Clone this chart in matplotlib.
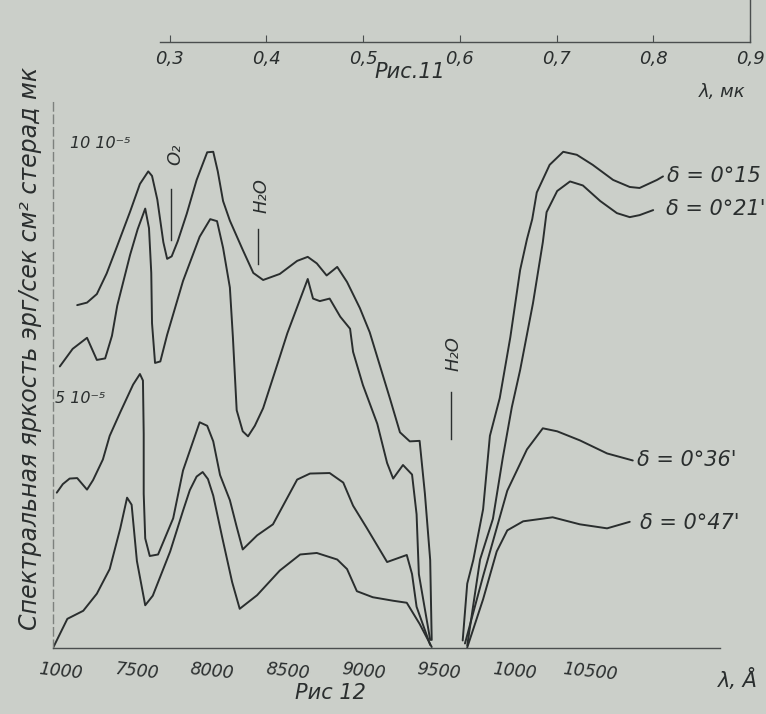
import matplotlib
matplotlib.use("Agg")
import matplotlib.pyplot as plt
from matplotlib.transforms import ScaledTranslation

plt.rcParams['font.family'] = ['DejaVu Sans']

# ---------------- data (wavelength in Å, spectral brightness in 1e-5 units) -------------
# delta = 0°15'
wl_a_left = [7160, 7225, 7290, 7355, 7425, 7510, 7575, 7630, 7655, 7690, 7730, 7755, 7785,
             7825, 7885, 7950, 8020, 8060, 8090, 8125, 8170, 8255, 8325, 8390, 8500, 8615,
             8685, 8745, 8810, 8880, 8945, 9030, 9095, 9165, 9230, 9295, 9360, 9425, 9460,
             9495, 9505]
val_a_left = [6.82, 6.87, 7.04, 7.45, 8.00, 8.68, 9.23, 9.48, 9.39, 8.92, 8.07, 7.74, 7.79,
              8.09, 8.64, 9.31, 9.86, 9.87, 9.48, 8.89, 8.50, 7.92, 7.46, 7.32, 7.44, 7.70,
              7.78, 7.65, 7.41, 7.58, 7.28, 6.76, 6.28, 5.59, 4.95, 4.29, 4.11, 4.12, 3.07,
              1.75, 0.16]
wl_a_right = [9710, 9740, 9780, 9845, 9890, 9955, 10025, 10090, 10135, 10170, 10200, 10285,
              10375, 10465, 10570, 10705, 10815, 10880, 10995, 11035]
val_a_right = [0.15, 1.28, 1.75, 2.76, 4.22, 4.97, 6.18, 7.52, 8.13, 8.53, 9.06, 9.61,
               9.87, 9.81, 9.61, 9.31, 9.17, 9.15, 9.31, 9.38]

# delta = 0°21'
wl_b_left = [7045, 7130, 7225, 7290, 7345, 7390, 7425, 7510, 7560, 7610, 7635, 7650, 7655,
             7675, 7710, 7755, 7860, 7970, 8040, 8085, 8125, 8170, 8190, 8215, 8255, 8290,
             8335, 8390, 8500, 8550, 8685, 8720, 8765, 8830, 8900, 8965, 8985, 9050, 9145,
             9210, 9250, 9315, 9375, 9405, 9420, 9495]
val_b_left = [5.60, 5.95, 6.17, 5.73, 5.76, 6.21, 6.81, 7.82, 8.33, 8.74, 8.35, 7.46, 6.46,
              5.67, 5.70, 6.23, 7.30, 8.18, 8.53, 8.49, 7.96, 7.17, 6.18, 4.73, 4.31, 4.21,
              4.42, 4.77, 5.79, 6.26, 7.34, 6.95, 6.90, 6.95, 6.59, 6.35, 5.89, 5.23, 4.46,
              3.68, 3.37, 3.64, 3.45, 2.66, 1.47, 0.16]
wl_b_right = [9740, 9825, 9910, 9975, 10035, 10090, 10175, 10240, 10265, 10335, 10420,
              10505, 10620, 10730, 10815, 10880, 10970]
val_b_right = [0.05, 1.76, 2.57, 3.78, 4.79, 5.53, 6.86, 8.07, 8.67, 9.09, 9.28, 9.20,
               8.89, 8.65, 8.57, 8.61, 8.71]

# delta = 0°36'
wl_c_left = [7025, 7065, 7110, 7160, 7225, 7265, 7330, 7375, 7445, 7530, 7575, 7595, 7600,
             7600, 7610, 7640, 7695, 7795, 7860, 7970, 8020, 8060, 8105, 8170, 8215, 8255,
             8350, 8455, 8615, 8700, 8830, 8920, 8985, 9075, 9210, 9340, 9375, 9405, 9495]
val_c_left = [3.09, 3.26, 3.37, 3.38, 3.15, 3.34, 3.75, 4.22, 4.69, 5.24, 5.45, 5.32, 4.26,
              3.07, 2.18, 1.83, 1.86, 2.58, 3.53, 4.49, 4.42, 4.11, 3.44, 2.94, 2.41, 1.96,
              2.24, 2.46, 3.35, 3.47, 3.48, 3.29, 2.83, 2.39, 1.71, 1.85, 1.47, 0.82, 0.06]
wl_c_right = [9725, 9845, 10005, 10135, 10240, 10335, 10485, 10665, 10835]
val_c_right = [0.09, 1.43, 3.13, 3.95, 4.37, 4.31, 4.13, 3.87, 3.73]

# delta = 0°47'
wl_d_left = [7000, 7095, 7200, 7290, 7375, 7445, 7490, 7520, 7555, 7610, 7660, 7775, 7860,
             7905, 7950, 7990, 8025, 8060, 8120, 8185, 8235, 8350, 8500, 8635, 8745, 8880,
             8945, 9010, 9115, 9250, 9340, 9425, 9505]
val_d_left = [0.00, 0.58, 0.74, 1.08, 1.57, 2.38, 2.99, 2.85, 1.73, 0.85, 1.04, 1.92, 2.73,
              3.14, 3.41, 3.50, 3.36, 3.03, 2.19, 1.31, 0.78, 1.05, 1.54, 1.86, 1.89, 1.76,
              1.57, 1.13, 1.01, 0.94, 0.90, 0.48, 0.02]
wl_d_right = [9740, 9845, 9935, 10005, 10110, 10305, 10485, 10665, 10815]
val_d_right = [0.01, 0.97, 1.92, 2.34, 2.52, 2.60, 2.46, 2.38, 2.51]

curve_labels = ["δ = 0°15", "δ = 0°21'", "δ = 0°36'", "δ = 0°47'"]
label_wl = [11061, 11054, 10863, 10882]
label_val = [9.38, 8.74, 3.73, 2.49]

x_ticks = [7000, 7500, 8000, 8500, 9000, 9500, 10000, 10500]
x_tick_labels = ["1000", "7500", "8000", "8500", "9000", "9500", "1000", "10500"]
top_ticks = [0.3, 0.4, 0.5, 0.6, 0.7, 0.8, 0.9]
top_tick_labels = ["0,3", "0,4", "0,5", "0,6", "0,7", "0,8", "0,9"]

# ---------------- style ----------------
bg = '#cbcfc9'
ink = '#2a2e2e'
W, H = 766, 714

fig = plt.figure(figsize=(W / 100, H / 100), dpi=100, facecolor=bg)

# main axes (Рис 12)
ax = fig.add_axes([53 / W, 1 - 648 / H, 667 / W, 548 / H])
ax.set_facecolor('none')
ax.set_xlim(7000, 11412)
ax.set_ylim(0, 10.9)

for wl, val in [(wl_a_left, val_a_left), (wl_a_right, val_a_right),
                (wl_b_left, val_b_left), (wl_b_right, val_b_right),
                (wl_c_left, val_c_left), (wl_c_right, val_c_right),
                (wl_d_left, val_d_left), (wl_d_right, val_d_right)]:
    ax.plot(wl, val, color=ink, lw=1.4, solid_joinstyle='round', solid_capstyle='round')

for s in ['top', 'right']:
    ax.spines[s].set_visible(False)
ax.spines['bottom'].set_color('#4a4e4e')
ax.spines['bottom'].set_linewidth(1.0)
ax.spines['left'].set_color('#7d817d')
ax.spines['left'].set_linewidth(1.0)
ax.spines['left'].set_linestyle((0, (6, 3)))

ax.set_xticks(x_ticks)
ax.set_xticklabels(x_tick_labels, fontsize=12.5, style='italic', color=ink, rotation=-6)
ax.tick_params(axis='x', length=0, pad=9)
offset = ScaledTranslation(8 / 100, 0, fig.dpi_scale_trans)
for lbl in ax.get_xticklabels():
    lbl.set_transform(lbl.get_transform() + offset)
ax.set_yticks([])

ax.text(7112, 10.03, "10 10⁻⁵", fontsize=11.5, style='italic', color=ink, va='center', ha='left')
ax.text(7015, 4.97, "5 10⁻⁵", fontsize=11.5, style='italic', color=ink, va='center', ha='left')

for lab, lw_, lv in zip(curve_labels, label_wl, label_val):
    ax.text(lw_, lv, lab, fontsize=15, style='italic', color=ink, va='center', ha='left')

# absorption band marks
ax.text(7807, 9.82, "O₂", fontsize=13, style='italic', color=ink, rotation=90,
        ha='center', va='center')
ax.plot([7780, 7780], [9.13, 8.12], color=ink, lw=1.0)
ax.text(8382, 9.0, "H₂O", fontsize=13, style='italic', color=ink, rotation=90,
        ha='center', va='center')
ax.plot([8356, 8356], [8.34, 7.64], color=ink, lw=1.0)
ax.text(9646, 5.86, "H₂O", fontsize=13, style='italic', color=ink, rotation=90,
        ha='center', va='center')
ax.plot([9632, 9632], [5.10, 4.16], color=ink, lw=1.0)

fig.text(330 / W, 1 - 693 / H, "Рис 12", fontsize=15, style='italic', color=ink,
         ha='center', va='center')
fig.text(738 / W, 1 - 680 / H, "λ, Å", fontsize=15, style='italic', color=ink,
         ha='center', va='center')

fig.text(30 / W, 1 - 348 / H, "Спектральная яркость эрг/сек см² стерад мк",
         fontsize=17, style='italic', color=ink, rotation=90, ha='center', va='center')

# top axis (Рис. 11)
axt = fig.add_axes([160 / W, 1 - 42 / H, 590 / W, 42 / H])
axt.set_facecolor('none')
axt.set_xlim(0.29, 0.9)
axt.set_ylim(0, 1)
for s in ['top', 'left']:
    axt.spines[s].set_visible(False)
for s in ['bottom', 'right']:
    axt.spines[s].set_color('#4a4e4e')
    axt.spines[s].set_linewidth(1.0)
axt.set_xticks(top_ticks)
axt.set_xticklabels(top_tick_labels, fontsize=13, style='italic', color=ink)
axt.tick_params(axis='x', direction='in', length=5, pad=6, color='#4a4e4e')
axt.set_yticks([])

fig.text(410 / W, 1 - 72 / H, "Рис.11", fontsize=15, style='italic', color=ink,
         ha='center', va='center')
fig.text(722 / W, 1 - 92 / H, "λ, мк", fontsize=13, style='italic', color=ink,
         ha='center', va='center')

fig.savefig("out.png", dpi=100, facecolor=bg)
